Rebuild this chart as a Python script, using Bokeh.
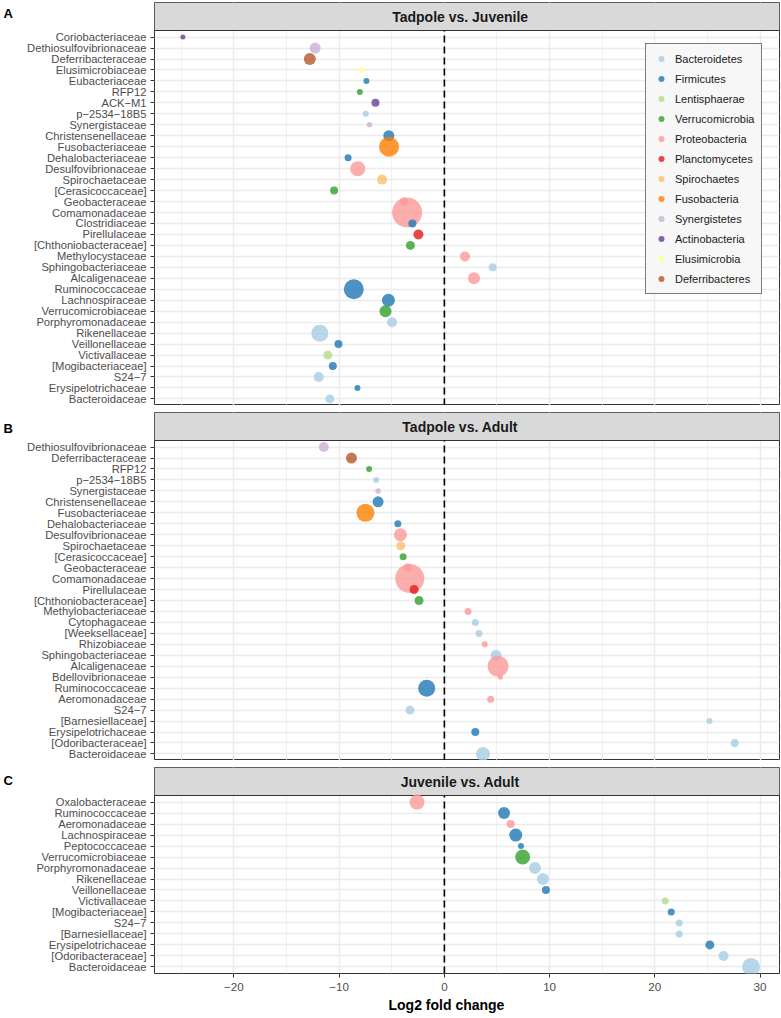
from bokeh.plotting import figure
from bokeh.models import (Range1d, FixedTicker, SingleIntervalTicker, Label, Title,
                          Legend, LegendItem, ColumnDataSource)
from bokeh.layouts import column, row
from bokeh.core.properties import value
from bokeh.embed import file_html
from bokeh.resources import INLINE

# ---------------- data ----------------
PHYLA = ["Bacteroidetes", "Firmicutes", "Lentisphaerae", "Verrucomicrobia",
         "Proteobacteria", "Planctomycetes", "Spirochaetes", "Fusobacteria",
         "Synergistetes", "Actinobacteria", "Elusimicrobia", "Deferribacteres"]
PALETTE = ["#A6CEE3", "#1F78B4", "#B2DF8A", "#33A02C", "#FB9A99", "#E31A1C",
           "#FDBF6F", "#FF7F00", "#CAB2D6", "#6A3D9A", "#FFFF99", "#B15928"]

# Panel A: Tadpole vs. Juvenile (top to bottom)
A_FAMILY = ["Coriobacteriaceae", "Dethiosulfovibrionaceae", "Deferribacteraceae",
            "Elusimicrobiaceae", "Eubacteriaceae", "RFP12", "ACK\u2212M1",
            "p\u22122534\u221218B5", "Synergistaceae", "Christensenellaceae",
            "Fusobacteriaceae", "Dehalobacteriaceae", "Desulfovibrionaceae",
            "Spirochaetaceae", "[Cerasicoccaceae]", "Geobacteraceae", "Comamonadaceae",
            "Clostridiaceae", "Pirellulaceae", "[Chthoniobacteraceae]", "Methylocystaceae",
            "Sphingobacteriaceae", "Alcaligenaceae", "Ruminococcaceae", "Lachnospiraceae",
            "Verrucomicrobiaceae", "Porphyromonadaceae", "Rikenellaceae", "Veillonellaceae",
            "Victivallaceae", "[Mogibacteriaceae]", "S24\u22127", "Erysipelotrichaceae",
            "Bacteroidaceae"]
A_PHYLUM = ["Actinobacteria", "Synergistetes", "Deferribacteres", "Elusimicrobia",
            "Firmicutes", "Verrucomicrobia", "Actinobacteria", "Bacteroidetes",
            "Synergistetes", "Firmicutes", "Fusobacteria", "Firmicutes", "Proteobacteria",
            "Spirochaetes", "Verrucomicrobia", "Proteobacteria", "Proteobacteria",
            "Firmicutes", "Planctomycetes", "Verrucomicrobia", "Proteobacteria",
            "Bacteroidetes", "Proteobacteria", "Firmicutes", "Firmicutes",
            "Verrucomicrobia", "Bacteroidetes", "Bacteroidetes", "Firmicutes",
            "Lentisphaerae", "Firmicutes", "Bacteroidetes", "Firmicutes", "Bacteroidetes"]
A_LFC = [-24.85, -12.28, -12.79, -7.91, -7.41, -8.04, -6.55, -7.47, -7.12, -5.28,
         -5.26, -9.15, -8.23, -5.92, -10.48, -3.86, -3.54, -3.04, -2.47, -3.23,
         1.96, 4.59, 2.82, -8.61, -5.32, -5.60, -4.97, -11.84, -10.07, -11.08,
         -10.60, -11.94, -8.26, -10.89]
A_ABUND = [5, 11, 12, 6, 6, 6, 8, 6, 5.5, 11, 20, 7, 15, 10, 8, 8, 30, 8, 10, 9,
           10, 8, 12, 20, 13, 12, 10, 17, 8, 9, 8, 10, 6, 9]

# Panel B: Tadpole vs. Adult
B_FAMILY = ["Dethiosulfovibrionaceae", "Deferribacteraceae", "RFP12",
            "p\u22122534\u221218B5", "Synergistaceae", "Christensenellaceae",
            "Fusobacteriaceae", "Dehalobacteriaceae", "Desulfovibrionaceae",
            "Spirochaetaceae", "[Cerasicoccaceae]", "Geobacteraceae", "Comamonadaceae",
            "Pirellulaceae", "[Chthoniobacteraceae]", "Methylobacteriaceae",
            "Cytophagaceae", "[Weeksellaceae]", "Rhizobiaceae", "Sphingobacteriaceae",
            "Alcaligenaceae", "Bdellovibrionaceae", "Ruminococcaceae", "Aeromonadaceae",
            "S24\u22127", "[Barnesiellaceae]", "Erysipelotrichaceae",
            "[Odoribacteraceae]", "Bacteroidaceae"]
B_PHYLUM = ["Synergistetes", "Deferribacteres", "Verrucomicrobia", "Bacteroidetes",
            "Synergistetes", "Firmicutes", "Fusobacteria", "Firmicutes",
            "Proteobacteria", "Spirochaetes", "Verrucomicrobia", "Proteobacteria",
            "Proteobacteria", "Planctomycetes", "Verrucomicrobia", "Proteobacteria",
            "Bacteroidetes", "Bacteroidetes", "Proteobacteria", "Bacteroidetes",
            "Proteobacteria", "Proteobacteria", "Firmicutes", "Proteobacteria",
            "Bacteroidetes", "Bacteroidetes", "Firmicutes", "Bacteroidetes", "Bacteroidetes"]
B_LFC = [-11.46, -8.83, -7.15, -6.49, -6.30, -6.30, -7.50, -4.42, -4.18, -4.15,
         -3.92, -3.48, -3.29, -2.88, -2.41, 2.25, 2.94, 3.29, 3.83, 4.91,
         5.10, 5.32, -1.68, 4.40, -3.26, 25.20, 2.94, 27.60, 3.67]
B_ABUND = [10, 11, 6, 6, 5.5, 11, 18, 7, 13, 9, 7, 8, 29, 9, 9, 7, 7, 7, 6, 11,
           21, 5, 17, 7, 9, 6, 8, 8, 14]

# Panel C: Juvenile vs. Adult
C_FAMILY = ["Oxalobacteraceae", "Ruminococcaceae", "Aeromonadaceae", "Lachnospiraceae",
            "Peptococcaceae", "Verrucomicrobiaceae", "Porphyromonadaceae",
            "Rikenellaceae", "Veillonellaceae", "Victivallaceae", "[Mogibacteriaceae]",
            "S24\u22127", "[Barnesiellaceae]", "Erysipelotrichaceae",
            "[Odoribacteraceae]", "Bacteroidaceae"]
C_PHYLUM = ["Proteobacteria", "Firmicutes", "Proteobacteria", "Firmicutes",
            "Firmicutes", "Verrucomicrobia", "Bacteroidetes", "Bacteroidetes",
            "Firmicutes", "Lentisphaerae", "Firmicutes", "Bacteroidetes",
            "Bacteroidetes", "Firmicutes", "Bacteroidetes", "Bacteroidetes"]
C_LFC = [-2.60, 5.67, 6.30, 6.78, 7.28, 7.44, 8.61, 9.37, 9.65, 20.99, 21.56,
         22.32, 22.32, 25.23, 26.53, 29.15]
C_ABUND = [15, 12, 8, 13, 6, 15, 12, 12, 8, 7, 7, 7, 7, 9, 10, 18]

X_TICKS = [-20, -10, 0, 10, 20, 30]

# ---------------- layout ----------------
FONT = "Liberation Sans"
X0, X1 = -27.55, 31.85
LW = 14                # width of the panel-letter strip on the left
W = 781 - LW
LEFT, RIGHT = 140, 2
ROW, STRIP = 10.96, 28


def letter_fig(letter, height, strip_top):
    q = figure(width=LW, height=height, x_range=Range1d(0, LW), y_range=Range1d(height, 0),
               output_backend="svg", toolbar_location=None,
               x_axis_location=None, y_axis_location=None,
               min_border_left=0, min_border_right=0, min_border_top=0, min_border_bottom=0)
    q.outline_line_color = None
    q.grid.visible = False
    q.text(x=[3], y=[strip_top + 9.5], text=[letter], text_align="left",
           text_baseline="alphabetic", text_font=value(FONT), text_font_style="bold",
           text_font_size="13px", text_color="black")
    return q


def panel(letter, title, fam, phy, lfc, abund, top, bottom, xaxis, legend=False):
    n = len(fam)
    frame_h = round(STRIP + (n + 0.2) * ROW)
    upp = (n + 0.2) / (frame_h - STRIP)
    y0 = 0.4
    ys = n + 0.6
    y1 = ys + STRIP * upp
    H = frame_h + top + bottom
    p = figure(width=W, height=H,
               x_range=Range1d(X0, X1), y_range=Range1d(y0, y1),
               output_backend="svg", toolbar_location=None,
               x_axis_location="below" if xaxis else None,
               min_border_left=LEFT, min_border_right=RIGHT,
               min_border_top=top, min_border_bottom=bottom)
    p.outline_line_color = "#333333"
    p.outline_line_width = 1
    p.background_fill_color = "white"
    p.border_fill_color = "white"

    ticks = list(range(1, n + 1))
    p.yaxis.ticker = FixedTicker(ticks=ticks)
    p.yaxis.major_label_overrides = {n - i: f for i, f in enumerate(fam)}
    p.yaxis.axis_line_color = None
    p.yaxis.major_tick_line_color = "#333333"
    p.yaxis.major_tick_out = 4
    p.yaxis.major_tick_in = 0
    p.yaxis.minor_tick_line_color = None
    p.yaxis.major_label_text_font = FONT
    p.yaxis.major_label_text_font_size = "11.2px"
    p.yaxis.major_label_text_color = "#4D4D4D"
    p.yaxis.major_label_standoff = 4

    p.ygrid.ticker = FixedTicker(ticks=ticks)
    p.ygrid.grid_line_color = "#EBEBEB"
    p.ygrid.grid_line_width = 1.4
    p.xgrid.ticker = SingleIntervalTicker(interval=10, num_minor_ticks=2)
    p.xgrid.grid_line_color = "#EBEBEB"
    p.xgrid.grid_line_width = 1.4
    p.xgrid.minor_grid_line_color = "#EBEBEB"
    p.xgrid.minor_grid_line_width = 0.7

    # facet strip
    p.quad(left=[X0], right=[X1], bottom=[ys], top=[y1],
           fill_color="#D9D9D9", line_color=None)
    p.segment(x0=[X0], y0=[ys], x1=[X1], y1=[ys], line_color="#333333", line_width=1)
    p.add_layout(Label(x=1.5, y=(ys + y1) / 2, text=title, text_align="center",
                       text_baseline="middle", text_font=FONT, text_font_style="bold",
                       text_font_size="14px", text_color="#1A1A1A"))
    # zero line
    p.segment(x0=[0], y0=[y0], x1=[0], y1=[ys], line_color="black",
              line_width=1.6, line_dash="7 4")

    colors = [PALETTE[PHYLA.index(ph)] for ph in phy]
    src = ColumnDataSource(dict(x=lfc, y=[n - i for i in range(n)], size=abund,
                                color=colors, phylum=phy))
    r = p.scatter("x", "y", size="size", fill_color="color", fill_alpha=0.8,
                  line_color=None, source=src)

    if xaxis:
        p.xaxis.ticker = FixedTicker(ticks=X_TICKS)
        p.xaxis.major_label_overrides = {t: (("\u2212" + str(-t)) if t < 0 else str(t))
                                         for t in X_TICKS}
        p.xaxis.axis_line_color = None
        p.xaxis.major_tick_line_color = "#333333"
        p.xaxis.major_tick_out = 4
        p.xaxis.major_tick_in = 0
        p.xaxis.minor_tick_line_color = None
        p.xaxis.major_label_text_font = FONT
        p.xaxis.major_label_text_font_size = "11.6px"
        p.xaxis.major_label_text_color = "#4D4D4D"
        p.xaxis.major_label_standoff = 5
        t = Title(text="Log2 fold change", align="left", offset=234,
                  text_font=FONT, text_font_size="14px", text_font_style="bold",
                  text_color="black", standoff=2)
        p.add_layout(t, "below")

    if legend:
        items = []
        for ph in PHYLA:
            if ph in phy:
                items.append(LegendItem(label=ph, renderers=[r], index=phy.index(ph)))
        legend_h = 12 * 15 + 11 * 5 + 2 * 7
        lg = Legend(items=items, location=(491, frame_h - 43 - legend_h),
                    border_line_color="black", border_line_width=1.5,
                    background_fill_color="#F7F7F7", background_fill_alpha=1,
                    label_text_font=FONT, label_text_font_size="11px",
                    label_text_color="#1A1A1A",
                    glyph_width=16, glyph_height=15, label_height=15,
                    spacing=5, padding=7, label_standoff=6, margin=0)
        p.add_layout(lg)
    return row(letter_fig(letter, H, top), p, spacing=0)


rA = panel("A", "Tadpole vs. Juvenile", A_FAMILY, A_PHYLUM, A_LFC, A_ABUND,
           top=2, bottom=0, xaxis=False, legend=True)
rB = panel("B", "Tadpole vs. Adult", B_FAMILY, B_PHYLUM, B_LFC, B_ABUND,
           top=7, bottom=0, xaxis=False)
rC = panel("C", "Juvenile vs. Adult", C_FAMILY, C_PHYLUM, C_LFC, C_ABUND,
           top=7, bottom=43, xaxis=True)

layout = column(rA, rB, rC, spacing=0)
open("out.html", "w").write(file_html(layout, INLINE))
